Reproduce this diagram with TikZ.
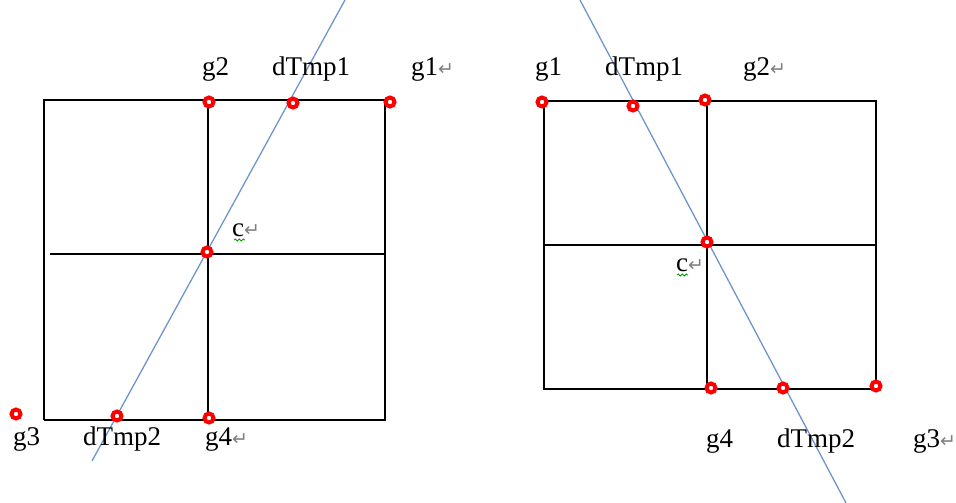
\documentclass[tikz,border=0pt]{standalone}
\usepackage{fontspec}
\setmainfont{Liberation Serif}
\newfontfamily\symfont{DejaVu Sans}
\usetikzlibrary{decorations.pathmorphing}
\newcommand{\retmark}{{\symfont\fontsize{19}{19}\selectfont\color{gray}↵}}
\tikzset{
  frame/.style={black, line width=1.5pt},
  axisline/.style={color={rgb,255:red,110;green,150;blue,205}, line width=1.3pt},
  pt/.style={circle, draw=red, fill=white, line width=4pt, minimum size=9pt, inner sep=0pt},
  lbl/.style={anchor=base west, inner sep=0pt, font=\fontsize{27}{27}\selectfont},
  squig/.style={green!60!black, line width=0.8pt, decorate, decoration={snake, amplitude=1pt, segment length=4pt}},
}
\begin{document}
\begin{tikzpicture}[x=1pt,y=-1pt]
\useasboundingbox (0,0) rectangle (956,503);
% ---------- left diagram ----------
\draw[frame] (44,420) -- (44,100) -- (390,100);
\draw[frame] (44,420) -- (385,420) -- (385,100);
\draw[frame] (208,100) -- (208,420);
\draw[frame] (50,254) -- (385,254);
\coordinate (la) at (345,0);
\coordinate (lb) at (92,461);
\draw[axisline] (la) -- (lb);
\node[pt] (Lg2) at (209,102) {};
\node[pt] (Ld1) at (293,103) {};
\node[pt] (Lg1) at (390,102) {};
\node[pt] (Lc) at (207,252) {};
\node[pt] (Lg3) at (16,414) {};
\node[pt] (Ld2) at (117,416) {};
\node[pt] (Lg4) at (209,418) {};
\node[lbl] (tLg2) at (202,75) {g2};
\node[lbl] (tLd1) at (272,75) {dTmp1};
\node[lbl] (tLg1) at (411,75) {g1\retmark};
\node[lbl] (tLc) at (232,236) {c\retmark};
\node[lbl] (tLg3) at (13,445) {g3};
\node[lbl] (tLd2) at (83,445) {dTmp2};
\node[lbl] (tLg4) at (205,445) {g4\retmark};
\draw[squig] (234,240) -- (245,240);
% ---------- right diagram ----------
\draw[frame] (544,389) -- (544,101) -- (876,101) -- (876,389) -- cycle;
\draw[frame] (707,101) -- (707,389);
\draw[frame] (544,245) -- (876,245);
\coordinate (ra) at (580,0);
\coordinate (rb) at (846,503);
\draw[axisline] (ra) -- (rb);
\node[pt] (Rg1) at (542,102) {};
\node[pt] (Rd1) at (633,106) {};
\node[pt] (Rg2) at (705,100) {};
\node[pt] (Rc) at (707,242) {};
\node[pt] (Rg4) at (711,388) {};
\node[pt] (Rd2) at (783,388) {};
\node[pt] (Rg3) at (876,386) {};
\node[lbl] (tRg1) at (535,76) {g1};
\node[lbl] (tRd1) at (605,76) {dTmp1};
\node[lbl] (tRg2) at (743,76) {g2\retmark};
\node[lbl] (tRc) at (676,271) {c\retmark};
\node[lbl] (tRg4) at (706,447) {g4};
\node[lbl] (tRd2) at (777,447) {dTmp2};
\node[lbl] (tRg3) at (913,447) {g3\retmark};
\draw[squig] (677,275) -- (688,275);
\end{tikzpicture}
\end{document}
